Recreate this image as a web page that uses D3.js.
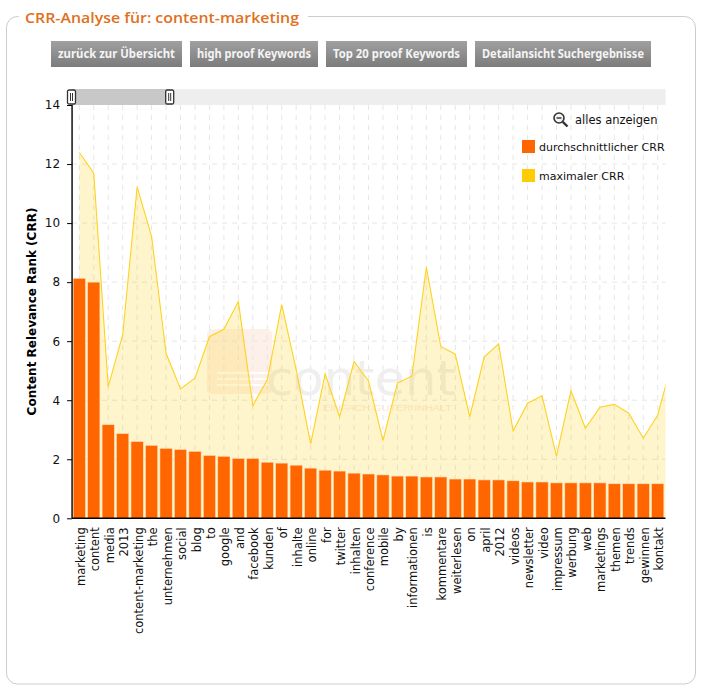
<!DOCTYPE html>
<html>
<head>
<meta charset="utf-8">
<script src="https://cdn.jsdelivr.net/npm/d3@7/dist/d3.min.js"></script>
<style>
  html, body { margin: 0; padding: 0; background: #fff; }
  svg { display: block; font-family: "DejaVu Sans", sans-serif; }
</style>
</head>
<body>
<div id="viz_container"></div>
<script>
// Data ///////////////////////////////////////////////////
const categories = ["marketing", "content", "media", "2013", "content-marketing", "the", "unternehmen", "social", "blog", "to", "google", "and", "facebook", "kunden", "of", "inhalte", "online", "for", "twitter", "inhalten", "conference", "mobile", "by", "informationen", "is", "kommentare", "weiterlesen", "on", "april", "2012", "videos", "newsletter", "video", "impressum", "werbung", "web", "marketings", "themen", "trends", "gewinnen", "kontakt"];
const avgCrr = [8.13, 8.0, 3.17, 2.87, 2.6, 2.47, 2.37, 2.33, 2.27, 2.13, 2.1, 2.03, 2.03, 1.9, 1.87, 1.8, 1.7, 1.63, 1.6, 1.53, 1.5, 1.47, 1.43, 1.43, 1.4, 1.4, 1.33, 1.33, 1.3, 1.3, 1.27, 1.23, 1.23, 1.2, 1.2, 1.2, 1.2, 1.17, 1.17, 1.17, 1.17];
const maxCrr = [12.39, 11.69, 4.46, 6.21, 11.22, 9.55, 5.59, 4.38, 4.75, 6.15, 6.4, 7.34, 3.82, 4.69, 7.24, 5.03, 2.52, 4.89, 3.44, 5.31, 4.65, 2.63, 4.58, 4.82, 8.5, 5.82, 5.56, 3.44, 5.46, 5.91, 2.96, 3.9, 4.15, 2.11, 4.32, 3.05, 3.76, 3.86, 3.56, 2.71, 3.5];
// the zoomed chart cuts the line off on its way to the next keyword
const nextKeyword = "nextKeyword";
const nextMaxCrr = 5.3;
const yTicks = [0, 2, 4, 6, 8, 10, 12, 14];
const buttonLabels = ["zurück zur Übersicht", "high proof Keywords", "Top 20 proof Keywords", "Detailansicht Suchergebnisse"];
const legendLabels = ["durchschnittlicher CRR", "maximaler CRR"];

const orange = "#FF6600";
const yellow = "#FFCC00";

const svg = d3.select("#viz_container")
  .append("svg")
    .attr("width", 702)
    .attr("height", 691);

// panel with the title sitting in the border
svg.append("rect")
    .attr("x", 6.5).attr("y", 16.5)
    .attr("width", 689).attr("height", 667.5)
    .attr("rx", 11)
    .attr("fill", "#fff")
    .attr("stroke", "#CCCCCC");

svg.append("rect")
    .attr("x", 19).attr("y", 10)
    .attr("width", 289).attr("height", 14)
    .attr("fill", "#fff");

svg.append("text")
    .attr("x", 25).attr("y", 22.5)
    .attr("textLength", 274)
    .attr("lengthAdjust", "spacingAndGlyphs")
    .style("font-family", "'Open Sans', sans-serif")
    .style("font-size", "15px")
    .style("font-weight", 600)
    .attr("fill", "#E07020")
    .text("CRR-Analyse für: content-marketing");

// buttons
const defs = svg.append("defs");
const grad = defs.append("linearGradient")
    .attr("id", "btn")
    .attr("x1", 0).attr("y1", 0).attr("x2", 0).attr("y2", 1);
grad.append("stop").attr("offset", "0%").attr("stop-color", "#A0A0A0");
grad.append("stop").attr("offset", "100%").attr("stop-color", "#7C7C7C");

const buttonX = [51, 190, 326, 475];
const buttonW = [131, 128, 141, 176];

const buttons = svg.append("g")
  .selectAll("g")
  .data(buttonLabels)
  .join("g")
    .attr("transform", (d, i) => `translate(${buttonX[i]},41)`);

buttons.append("rect")
    .attr("width", (d, i) => buttonW[i])
    .attr("height", 26)
    .attr("fill", "url(#btn)");

buttons.append("text")
    .attr("x", 7).attr("y", 17)
    .attr("textLength", (d, i) => buttonW[i] - 14)
    .attr("lengthAdjust", "spacingAndGlyphs")
    .style("font-family", "'Noto Sans', sans-serif")
    .style("font-size", "12px")
    .style("font-weight", "bold")
    .attr("fill", "#F4F4F4")
    .text(d => d);

// scales
const step = 14.46;
const left = 72.07;
const right = 665.5;
const xScale = d3.scaleBand()
    .domain(categories.concat([nextKeyword]))
    .range([left, left + step * (categories.length + 1)])
    .paddingInner(0.15)
    .paddingOuter(0.075);
const xMid = d => xScale(d) + xScale.bandwidth() / 2;

const yScale = d3.scaleLinear()
    .domain([0, 14])
    .range([518.3, 105]);

defs.append("clipPath")
    .attr("id", "plotClip")
  .append("rect")
    .attr("x", left).attr("y", yScale(14))
    .attr("width", right - left)
    .attr("height", yScale(0) - yScale(14));

// watermark behind the chart
const mark = svg.append("g");
mark.append("rect")
    .attr("x", 207).attr("y", 329)
    .attr("width", 65).attr("height", 65)
    .attr("rx", 5)
    .attr("fill", "#FDF0E8");
mark.selectAll("line")
    .data([373, 379, 385])
    .join("line")
    .attr("x1", 217).attr("x2", 272)
    .attr("y1", d => d).attr("y2", d => d)
    .attr("stroke", "#fff")
    .attr("stroke-width", 2);
mark.append("text")
    .attr("x", 266).attr("y", 395)
    .attr("textLength", 190)
    .attr("lengthAdjust", "spacingAndGlyphs")
    .style("font-family", "'DejaVu Sans', sans-serif")
    .style("font-size", "48px")
    .attr("fill", "#EFEFEF")
    .text("content");
mark.append("text")
    .attr("x", 323).attr("y", 411)
    .attr("textLength", 129)
    .attr("lengthAdjust", "spacingAndGlyphs")
    .style("font-family", "'Liberation Sans', sans-serif")
    .style("font-size", "8.5px")
    .attr("fill", "#FBE9DC")
    .text("EINFACH GUTER INHALT");

// grid
const grid = svg.append("g")
    .attr("fill", "none")
    .attr("stroke", "#E6E6E6")
    .attr("stroke-dasharray", "5,5");
grid.selectAll(".h")
    .data(yTicks.slice(1, -1))
    .join("line")
    .attr("class", "h")
    .attr("x1", left).attr("x2", right)
    .attr("y1", d => yScale(d)).attr("y2", d => yScale(d));
grid.selectAll(".v")
    .data(categories)
    .join("line")
    .attr("class", "v")
    .attr("x1", xMid).attr("x2", xMid)
    .attr("y1", yScale(14)).attr("y2", yScale(0));

// maximum as area and line
const maxPoints = categories.map((c, i) => ({ key: c, value: maxCrr[i] }));
maxPoints.push({ key: nextKeyword, value: nextMaxCrr });

const chart = svg.append("g").attr("clip-path", "url(#plotClip)");

chart.append("path")
    .datum(maxPoints)
    .attr("fill", yellow)
    .attr("fill-opacity", 0.2)
    .attr("d", d3.area().x(d => xMid(d.key)).y0(yScale(0)).y1(d => yScale(d.value)));

chart.append("path")
    .datum(maxPoints)
    .attr("fill", "none")
    .attr("stroke", "#FFD21F")
    .attr("stroke-width", 1.1)
    .attr("d", d3.line().x(d => xMid(d.key)).y(d => yScale(d.value)));

// average as bars
svg.append("g")
  .selectAll("rect")
  .data(categories)
  .join("rect")
    .attr("x", d => xScale(d))
    .attr("y", (d, i) => yScale(avgCrr[i]))
    .attr("width", xScale.bandwidth())
    .attr("height", (d, i) => yScale(0) - yScale(avgCrr[i]))
    .attr("fill", orange)
    .attr("stroke", "#FFE0B8")
    .attr("stroke-width", 0.6);

// axes
const xAxis = svg.append("g")
    .attr("transform", `translate(0,${yScale(0)})`)
    .call(d3.axisBottom(xScale).tickValues(categories).tickSize(0).tickPadding(8));
xAxis.select(".domain").attr("d", `M${left},0H${right}`).attr("stroke", "#000").attr("stroke-width", 1.4);
xAxis.selectAll("text")
    .attr("transform", "rotate(-90)")
    .attr("text-anchor", "end")
    .attr("x", -9)
    .attr("y", 1.5)
    .attr("dy", "0.35em")
    .style("font-family", "'DejaVu Sans', sans-serif")
    .style("font-size", "11.5px")
    .attr("fill", "#111");

const yAxis = svg.append("g")
    .attr("transform", `translate(${left},0)`)
    .call(d3.axisLeft(yScale).tickValues(yTicks).tickSize(5).tickPadding(7));
yAxis.select(".domain").attr("d", `M0,${yScale(14)}V${yScale(0)}`).attr("stroke", "#000").attr("stroke-width", 1.4);
yAxis.selectAll("line").attr("stroke", "#000");
yAxis.selectAll("text")
    .style("font-family", "'DejaVu Sans', sans-serif")
    .style("font-size", "12px")
    .attr("fill", "#111");

svg.append("text")
    .attr("transform", "translate(36,311.5) rotate(-90)")
    .attr("text-anchor", "middle")
    .style("font-size", "12px")
    .style("font-weight", "bold")
    .attr("fill", "#000")
    .text("Content Relevance Rank (CRR)");

// zoom slider on top of the axis
svg.append("rect")
    .attr("x", left).attr("y", 89)
    .attr("width", right - left).attr("height", 16)
    .attr("fill", "#EEEEEE");
svg.append("rect")
    .attr("x", left).attr("y", 89)
    .attr("width", 98).attr("height", 16)
    .attr("fill", "#C8C8C8");

const handles = svg.append("g")
  .selectAll("g")
  .data([71.5, 169.7])
  .join("g")
    .attr("transform", d => `translate(${d},97)`);
handles.append("rect")
    .attr("x", -4).attr("y", -7)
    .attr("width", 8).attr("height", 14)
    .attr("rx", 1.5)
    .attr("fill", "#fff")
    .attr("stroke", "#333")
    .attr("stroke-width", 1.3);
handles.selectAll("line")
    .data([-1, 1])
    .join("line")
    .attr("x1", d => d).attr("x2", d => d)
    .attr("y1", -4).attr("y2", 4)
    .attr("stroke", "#333");

// "show all" control
const zoomOut = svg.append("g")
    .attr("transform", "translate(559,118)")
    .attr("fill", "none")
    .attr("stroke", "#333");
zoomOut.append("circle").attr("r", 5).attr("stroke-width", 1.6).attr("fill", "#f4f4f4");
zoomOut.append("line").attr("x1", -2.5).attr("x2", 2.5).attr("stroke-width", 1.4);
zoomOut.append("line").attr("x1", 3.8).attr("y1", 3.8).attr("x2", 8.5).attr("y2", 8.5).attr("stroke-width", 2.4);

svg.append("text")
    .attr("x", 575).attr("y", 124)
    .style("font-size", "11.5px")
    .attr("fill", "#111")
    .text("alles anzeigen");

// legend
const legend = svg.append("g")
  .selectAll("g")
  .data(legendLabels)
  .join("g")
    .attr("transform", (d, i) => `translate(522,${140 + i * 29})`);
legend.append("rect")
    .attr("width", 13).attr("height", 13)
    .attr("fill", (d, i) => i === 0 ? orange : yellow);
legend.append("text")
    .attr("x", 17).attr("y", 11)
    .style("font-size", "11px")
    .attr("fill", "#111")
    .text(d => d);
</script>
</body>
</html>
